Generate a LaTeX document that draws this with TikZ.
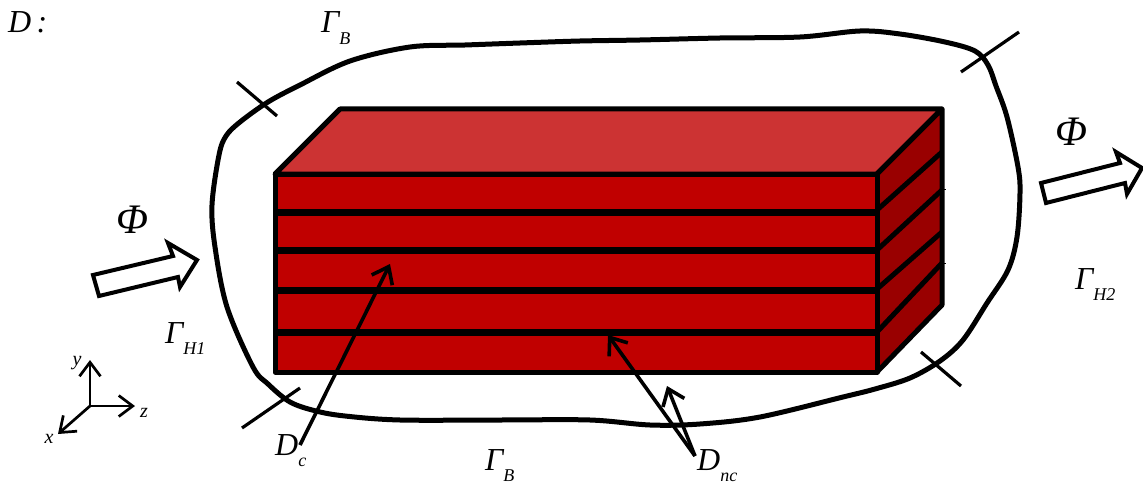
\documentclass[tikz,border=0pt]{standalone}
\usepackage{fontspec}
\setmainfont{Liberation Serif}
\usetikzlibrary{arrows.meta}
\definecolor{frontred}{HTML}{C00000}
\definecolor{topred}{HTML}{CC3333}
\definecolor{sidered}{HTML}{990000}
\newcommand{\pedice}[1]{\raisebox{-11.5pt}{\fontsize{18}{18}\selectfont #1}}
\tikzset{
    facet/.style={draw=black,line width=5pt,line join=round},
    strato/.style={draw=black,line width=7pt},
    diag/.style={draw=black,line width=5pt},
    bordo/.style={draw=black,line width=5pt,line join=round},
    tacca/.style={draw=black,line width=3.2pt},
    freccia/.style={draw=black,line width=3.6pt,-{Straight Barb[length=15pt,width=23pt,line width=3.6pt]}},
    assi/.style={draw=black,line width=2.7pt,-{Straight Barb[length=14pt,width=21pt,line width=2.7pt]}},
    flusso/.style={draw=black,fill=white,line width=4pt,line join=miter},
    lab/.style={inner sep=0pt,anchor=base west,font=\fontsize{32}{32}\selectfont\itshape},
    phi/.style={inner sep=0pt,anchor=base,font=\fontsize{42}{42}\selectfont\itshape},
    asse/.style={inner sep=0pt,anchor=base,font=\fontsize{20}{20}\selectfont\itshape}
}
\begin{document}
\begin{tikzpicture}[x=1pt,y=-1pt]
    \useasboundingbox (0,0) rectangle (1143,484);

    % bordo esterno
    \draw[bordo] plot[smooth cycle,tension=0.55] coordinates {
        (219,155) (226,136) (240,122) (268,102) (300,85) (350,61) (410,47) (465,45)
        (520,43) (580,41) (640,40) (720,38) (800,37) (860,31) (900,34) (945,42)
        (975,51) (988,65) (996,86) (1007,117) (1018,167) (1020,193) (1017,237)
        (1008,270) (987,303) (963,340) (940,361) (910,378) (875,389) (843,397)
        (760,417) (700,424) (650,425) (590,420) (500,420) (400,420) (345,416)
        (316,411) (290,402) (268,384) (253,367) (227,307) (215,247) (212,205)};

    % tacche
    \draw[tacca] (237,82) -- (277,116);
    \draw[tacca] (961,72) -- (1019,32);
    \draw[tacca] (242,428) -- (300,388);
    \draw[tacca] (921,352) -- (961,386);

    % blocco
    \draw[facet,fill=topred] (275,174) -- (340,109) -- (942,109) -- (877,174) -- cycle;
    \draw[facet,fill=sidered] (877,174) -- (942,109) -- (942,305) -- (877,372) -- cycle;
    \draw[facet,fill=frontred] (275,174) rectangle (877,372);

    % strati
    \draw[strato] (275,212) -- (877,212);
    \draw[strato] (275,250) -- (877,250);
    \draw[strato] (275,290) -- (877,290);
    \draw[strato] (277,332) -- (877,332);
    \draw[diag] (877,210) -- (942,152);
    \draw[diag] (877,250) -- (942,190);
    \draw[diag] (877,289) -- (942,232);
    \draw[diag] (877,332) -- (942,263);
    \draw[line width=0.8pt] (942,189) -- (946,189);
    \draw[line width=0.8pt] (942,263) -- (946,263);

    % flussi
    \draw[flusso] (93,275) -- (173,256) -- (168,243) -- (197,260) -- (180,287) -- (178,277) -- (99,296) -- cycle;
    \draw[flusso] (1041,183) -- (1120,163) -- (1116,152) -- (1142,168) -- (1127,194) -- (1125,183) -- (1046,203) -- cycle;

    % etichette
    \node[phi] (phiuno) at (132,233) {Φ};
    \node[phi] (phidue) at (1071,146) {Φ};
    \node[lab] (dom) at (8,33) {D\,:};
    \node[lab] (gbsu) at (321,33) {Γ\pedice{B}};
    \node[lab] (gbgiu) at (485,470) {Γ\pedice{B}};
    \node[lab] (guno) at (165,343) {Γ\pedice{H1}};
    \node[lab] (gdue) at (1075,289) {Γ\pedice{H2}};
    \node[lab] (dc) at (275,455) {D\pedice{c}};
    \node[lab] (dnc) at (697,470) {D\pedice{nc}};

    % frecce
    \coordinate (dcfrom) at (300,445);
    \coordinate (dcto) at (390,264);
    \coordinate (dncfrom) at (695,456);
    \coordinate (dncuno) at (608,335);
    \coordinate (dncdue) at (667,386);
    \draw[freccia] (dcfrom) -- (dcto);
    \draw[freccia] (dncfrom) -- (dncuno);
    \draw[freccia] (dncfrom) -- (dncdue);

    % assi
    \coordinate (orig) at (90,406);
    \coordinate (assey) at (90,360);
    \coordinate (assez) at (135,406);
    \coordinate (assex) at (58,434);
    \draw[assi] (orig) -- (assey);
    \draw[assi] (orig) -- (assez);
    \draw[assi] (orig) -- (assex);
    \node[asse] (ly) at (77,365) {y};
    \node[asse] (lz) at (144,417) {z};
    \node[asse] (lx) at (49,443) {x};
\end{tikzpicture}
\end{document}
